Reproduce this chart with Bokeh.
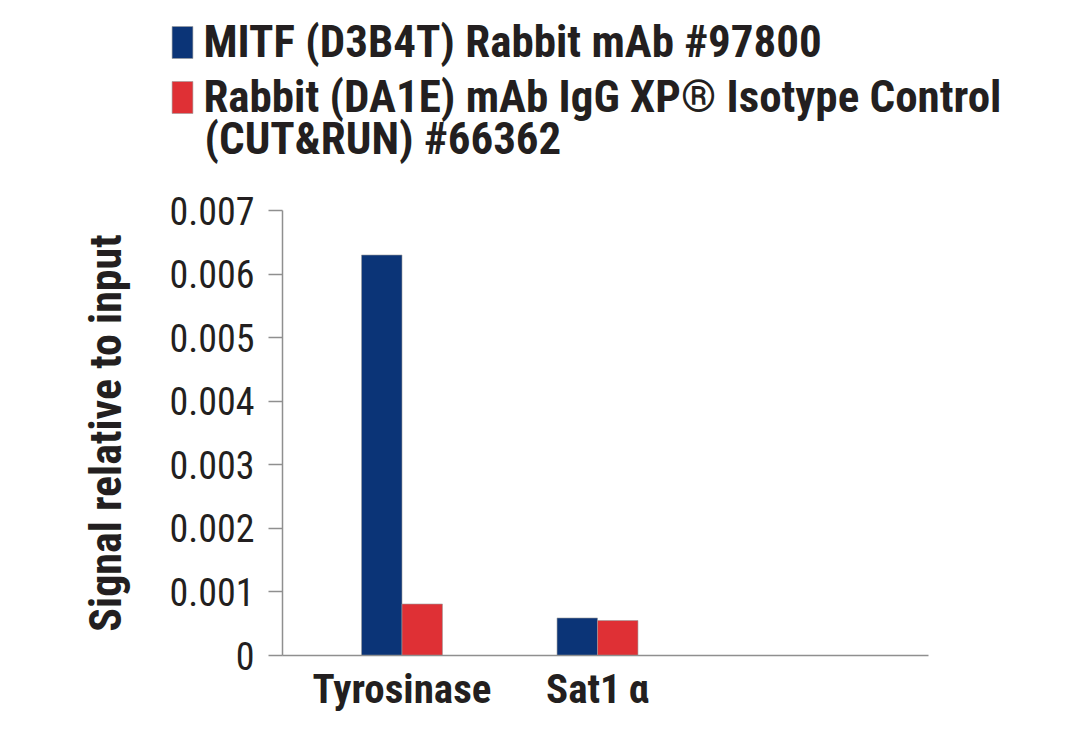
from bokeh.plotting import figure
from bokeh.models import Range1d, FixedTicker, Legend, LegendItem, ColumnDataSource, Label
from bokeh.embed import file_html
from bokeh.resources import INLINE

categories = ["Tyrosinase", "Sat1\u2009\u03b1"]
mitf = [0.0063, 0.00059]
igg = [0.00081, 0.00055]
series_names = ["MITF (D3B4T) Rabbit mAb #97800",
                "Rabbit (DA1E) mAb IgG XP\u00ae Isotype Control"]
series2_line2 = "(CUT&RUN) #66362"
colors = ["#0b3477", "#df3035"]
y_ticks = [0, 0.001, 0.002, 0.003, 0.004, 0.005, 0.006, 0.007]
y_max = 0.007

FONT = "Roboto Condensed"
TXT = "#231f20"

# page geometry (pixels)
W, H = 1080, 725
AX_L, AX_R, AX_T, AX_B = 282, 928, 210, 655      # visible axes box
FL, FR, FT, FB = 75, 1010, 12, 722                # drawing frame (holds key and axis texts)
PX_PER_CAT = 195.5
CAT1_PX = 401.5
px_per_y = (AX_B - AX_T) / y_max


def x_at(px):
    return 1 + (px - CAT1_PX) / PX_PER_CAT


p = figure(width=W, height=H, output_backend="svg", toolbar_location=None,
           x_range=Range1d(x_at(FL), x_at(FR)),
           y_range=Range1d(-(FB - AX_B) / px_per_y, (AX_B - FT) / px_per_y),
           min_border_left=FL, min_border_right=W - FR, min_border_top=FT, min_border_bottom=H - FB)
p.outline_line_color = None
p.xgrid.visible = False
p.ygrid.visible = False

xs = list(range(1, len(categories) + 1))
bw = 0.207
src = ColumnDataSource(dict(x1=[x - bw / 2 for x in xs], x2=[x + bw / 2 for x in xs], mitf=mitf, igg=igg))
bar_kw = dict(width=bw, bottom=0, source=src, line_color="#9a9a9a", line_width=0.6)
r1 = p.vbar(x="x1", top="mitf", fill_color=colors[0], **bar_kw)
r2 = p.vbar(x="x2", top="igg", fill_color=colors[1], **bar_kw)

ya = p.yaxis[0]
ya.fixed_location = x_at(AX_L)
ya.bounds = (0, y_max)
ya.ticker = FixedTicker(ticks=y_ticks)
ya.major_label_overrides = {t: ("0" if t == 0 else f"{t:.3f}") for t in y_ticks}
ya.axis_line_color = "#8f8f8f"
ya.axis_line_width = 1.5
ya.major_tick_line_color = "#8f8f8f"
ya.major_tick_line_width = 1.5
ya.major_tick_out = 14
ya.major_tick_in = 0
ya.minor_tick_line_color = None
ya.major_label_standoff = 14
ya.major_label_text_font = FONT
ya.major_label_text_font_size = "38px"
ya.major_label_text_color = TXT
ya.axis_label = "Signal relative to input"
ya.axis_label_text_font = FONT
ya.axis_label_text_font_style = "bold"
ya.axis_label_text_font_size = "44px"
ya.axis_label_text_color = TXT
ya.axis_label_standoff = 34

xa = p.xaxis[0]
xa.fixed_location = 0
xa.bounds = (x_at(AX_L), x_at(AX_R))
xa.ticker = FixedTicker(ticks=xs)
xa.major_label_overrides = {x: c for x, c in zip(xs, categories)}
xa.axis_line_color = "#8f8f8f"
xa.axis_line_width = 1.5
xa.major_tick_line_color = None
xa.minor_tick_line_color = None
xa.major_label_standoff = 3
xa.major_label_text_font = FONT
xa.major_label_text_font_style = "bold"
xa.major_label_text_font_size = "41px"
xa.major_label_text_color = TXT

legend = Legend(items=[LegendItem(label=series_names[0], renderers=[r1]),
                       LegendItem(label=series_names[1], renderers=[r2])],
                location=(169.4 - FL, FB - 111 - 12), orientation="vertical",
                glyph_width=26, glyph_height=40, label_standoff=8, spacing=2,
                padding=0, margin=0, border_line_color=None, background_fill_alpha=0,
                label_text_font=FONT, label_text_font_style="bold", label_text_font_size="45px",
                label_text_color=TXT)
p.add_layout(legend, "center")
p.add_layout(Label(x=204 - FL, y=FB - 138, x_units="screen", y_units="screen",
                   text=series2_line2, text_font=FONT, text_font_style="bold", text_font_size="45px",
                   text_color=TXT, text_align="left", text_baseline="alphabetic"))

open("out.html", "w").write(file_html(p, INLINE))
